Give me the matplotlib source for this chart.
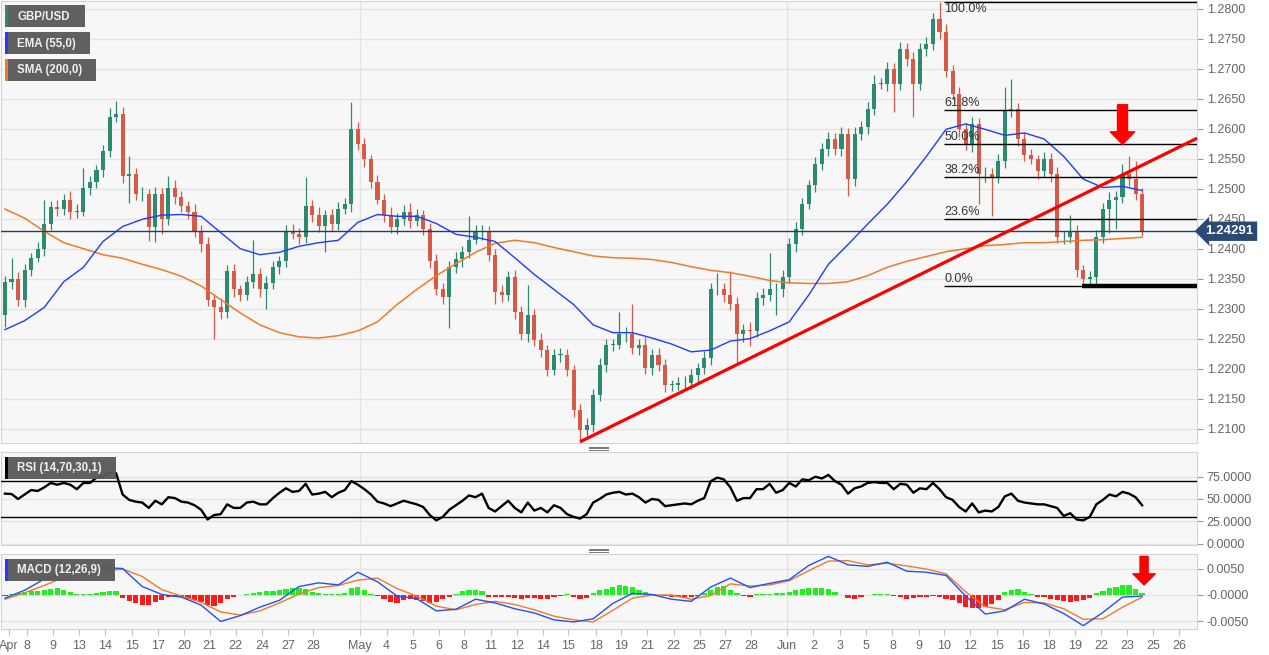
import matplotlib
matplotlib.use('Agg')
import matplotlib.pyplot as plt
from matplotlib.patches import Rectangle
from matplotlib.lines import Line2D
import numpy as np

plt.rcParams['font.family'] = ['Liberation Sans', 'DejaVu Sans']

# ---------------- data (GBP/USD, 8h bars) ----------------
first_open = 1.2290
close = [1.2345, 1.2349, 1.2315, 1.2365, 1.2385, 1.2399, 1.2441, 1.2469, 1.2466, 1.2482,
         1.2462, 1.2462, 1.2502, 1.2512, 1.2532, 1.2563, 1.2619, 1.2624, 1.2521, 1.2524,
         1.2491, 1.2491, 1.2436, 1.2491, 1.2449, 1.2502, 1.2486, 1.2471, 1.2462, 1.2429,
         1.2407, 1.2315, 1.2302, 1.2295, 1.2362, 1.2332, 1.2323, 1.2345, 1.2357, 1.2332,
         1.2343, 1.2369, 1.2379, 1.2429, 1.2424, 1.2420, 1.2471, 1.2457, 1.2437, 1.2457,
         1.2441, 1.2466, 1.2474, 1.2599, 1.2574, 1.2549, 1.2511, 1.2482, 1.2457, 1.2436,
         1.2449, 1.2461, 1.2446, 1.2457, 1.2432, 1.2379, 1.2332, 1.2320, 1.2369, 1.2382,
         1.2394, 1.2415, 1.2427, 1.2429, 1.2390, 1.2327, 1.2323, 1.2352, 1.2295, 1.2257,
         1.2290, 1.2248, 1.2231, 1.2198, 1.2223, 1.2223, 1.2198, 1.2131, 1.2098, 1.2106,
         1.2156, 1.2206, 1.2240, 1.2240, 1.2257, 1.2257, 1.2235, 1.2240, 1.2201, 1.2223,
         1.2206, 1.2173, 1.2173, 1.2176, 1.2176, 1.2190, 1.2201, 1.2218, 1.2332, 1.2332,
         1.2323, 1.2307, 1.2257, 1.2265, 1.2262, 1.2318, 1.2323, 1.2332, 1.2332, 1.2352,
         1.2407, 1.2432, 1.2474, 1.2507, 1.2541, 1.2566, 1.2583, 1.2566, 1.2591, 1.2516,
         1.2591, 1.2603, 1.2633, 1.2675, 1.2675, 1.2700, 1.2675, 1.2733, 1.2716, 1.2675,
         1.2733, 1.2741, 1.2783, 1.2762, 1.2696, 1.2658, 1.2599, 1.2574, 1.2608, 1.2524,
         1.2524, 1.2519, 1.2546, 1.2629, 1.2633, 1.2583, 1.2557, 1.2549, 1.2529, 1.2549,
         1.2524, 1.2419, 1.2419, 1.2429, 1.2365, 1.2349, 1.2352, 1.2419, 1.2466, 1.2482,
         1.2486, 1.2524, 1.2516, 1.2491, 1.24291]

# wick lengths in pips above / below the body
up = [10, 35, 12, 10, 8, 12, 40, 10, 12, 10,
      15, 12, 33, 10, 8, 10, 15, 22, 12, 30,
      10, 12, 8, 12, 10, 20, 12, 10, 8, 12,
      10, 12, 10, 15, 10, 12, 8, 10, 58, 10,
      12, 10, 8, 10, 12, 10, 48, 10, 12, 8,
      10, 12, 10, 45, 12, 10, 8, 12, 10, 12,
      10, 12, 15, 10, 8, 10, 12, 10, 10, 12,
      10, 40, 12, 10, 8, 10, 12, 10, 12, 10,
      50, 10, 12, 8, 10, 12, 10, 8, 10, 12,
      10, 12, 10, 10, 38, 12, 50, 10, 12, 10,
      12, 10, 8, 10, 12, 10, 8, 12, 10, 28,
      10, 40, 12, 10, 12, 10, 12, 60, 10, 12,
      10, 12, 10, 8, 12, 10, 12, 10, 12, 10,
      12, 10, 12, 15, 10, 12, 10, 12, 10, 12,
      10, 12, 10, 29, 12, 10, 12, 10, 12, 10,
      12, 10, 12, 40, 50, 10, 12, 10, 8, 12,
      10, 12, 10, 28, 10, 8, 10, 12, 10, 12,
      10, 17, 30, 30, 10]
dn = [20, 12, 10, 12, 10, 8, 12, 10, 12, 10,
      12, 10, 8, 12, 10, 12, 10, 8, 12, 45,
      10, 12, 23, 25, 25, 10, 12, 10, 12, 10,
      12, 10, 53, 12, 10, 12, 10, 8, 10, 12,
      33, 10, 12, 10, 8, 12, 10, 12, 10, 43,
      12, 10, 8, 12, 10, 12, 10, 8, 12, 10,
      12, 10, 12, 8, 10, 12, 10, 12, 52, 10,
      12, 10, 8, 12, 10, 20, 12, 10, 12, 10,
      12, 10, 12, 10, 8, 12, 10, 12, 20, 10,
      12, 10, 12, 10, 8, 12, 10, 12, 10, 12,
      10, 12, 10, 8, 12, 10, 12, 10, 12, 10,
      12, 10, 47, 12, 25, 10, 12, 10, 42, 12,
      10, 12, 10, 8, 12, 10, 12, 10, 12, 28,
      12, 10, 12, 10, 8, 12, 47, 10, 12, 55,
      10, 12, 10, 12, 10, 8, 12, 10, 12, 50,
      12, 65, 10, 12, 10, 12, 10, 8, 12, 10,
      12, 10, 12, 10, 12, 11, 10, 12, 10, 40,
      50, 10, 12, 10, 8]

# moving averages, every 3rd bar
ema55 = [1.2265, 1.2280, 1.2302, 1.2345, 1.2369, 1.2412, 1.2437, 1.2449, 1.2456, 1.2457,
         1.2454, 1.2427, 1.2400, 1.2390, 1.2394, 1.2404, 1.2410, 1.2414, 1.2444, 1.2457,
         1.2454, 1.2454, 1.2442, 1.2424, 1.2419, 1.2412, 1.2385, 1.2357, 1.2332, 1.2307,
         1.2273, 1.2260, 1.2260, 1.2251, 1.2241, 1.2228, 1.2231, 1.2246, 1.2250, 1.2263,
         1.2278, 1.2323, 1.2374, 1.2407, 1.2441, 1.2474, 1.2512, 1.2554, 1.2599, 1.2608,
         1.2599, 1.2589, 1.2593, 1.2583, 1.2554, 1.2516, 1.2502, 1.2504, 1.2497]
sma200 = [1.2466, 1.2451, 1.2429, 1.2410, 1.2400, 1.2390, 1.2384, 1.2374, 1.2365, 1.2354,
          1.2338, 1.2315, 1.2293, 1.2273, 1.2260, 1.2253, 1.2251, 1.2255, 1.2263, 1.2278,
          1.2307, 1.2332, 1.2355, 1.2375, 1.2394, 1.2409, 1.2414, 1.2410, 1.2402, 1.2395,
          1.2388, 1.2385, 1.2384, 1.2382, 1.2377, 1.2370, 1.2364, 1.2360, 1.2354, 1.2347,
          1.2343, 1.2342, 1.2342, 1.2345, 1.2355, 1.2369, 1.2379, 1.2387, 1.2395, 1.2400,
          1.2405, 1.2407, 1.2410, 1.2410, 1.2412, 1.2414, 1.2415, 1.2417, 1.2419]

rsi = [56, 55.6, 50, 55, 60, 59, 63, 68, 66, 68,
       66, 61, 68, 68, 74, 75, 80, 79, 55, 49,
       47, 46, 40, 48, 44, 52, 51, 47, 46, 43,
       38, 27, 32, 33, 44, 40, 40, 46, 47, 44,
       44, 51, 57, 62, 58, 59, 67, 55, 56, 58,
       52, 57, 60, 70, 66, 61, 55, 47, 45, 42,
       45, 48, 46, 44, 41, 32, 26, 30, 38, 43,
       48, 54, 52, 56, 40, 36, 42, 48, 40, 35,
       46, 37, 40, 35, 43, 40, 33, 30, 28, 33,
       46, 50, 55, 57, 58, 55, 56, 52, 46, 50,
       49, 42, 43, 44, 45, 44, 48, 51, 70, 74,
       72, 63, 48, 51, 51, 61, 61, 67, 57, 60,
       68, 64, 72, 71, 75, 73, 77, 70, 66, 56,
       62, 64, 68, 69, 68, 68, 61, 67, 66, 57,
       62, 61, 68, 61, 52, 49, 41, 36, 45, 35,
       37, 36, 41, 53, 56, 48, 46, 45, 44, 44,
       42, 40, 31, 34, 27, 26, 30, 44, 49, 55,
       53, 58, 56, 52, 43]

macd = [-0.0006, 0.0009, 0.0030, 0.0041, 0.0044, 0.0052, 0.0050, 0.0016, 0.0001, -0.0004,
        -0.0019, -0.0050, -0.0039, -0.0023, -0.0010, 0.0016, 0.0023, 0.0019, 0.0043, 0.0025,
        -0.0002, -0.0007, -0.0030, -0.0027, -0.0008, -0.0015, -0.0026, -0.0034, -0.0047, -0.0051,
        -0.0045, -0.0016, 0.0003, 0.0001, -0.0008, -0.0012, 0.0015, 0.0032, 0.0014, 0.0022,
        0.0029, 0.0056, 0.0073, 0.0057, 0.0054, 0.0062, 0.0045, 0.0043, 0.0037, -0.0002,
        -0.0036, -0.0030, -0.0008, -0.0017, -0.0035, -0.0058, -0.0033, -0.0004, -0.0002]
signal = [-0.0008, 0.0004, 0.0018, 0.0033, 0.0040, 0.0045, 0.0049, 0.0035, 0.0010, -0.0002,
          -0.0014, -0.0032, -0.0038, -0.0030, -0.0015, 0.0002, 0.0014, 0.0018, 0.0028, 0.0032,
          0.0012, -0.0002, -0.0021, -0.0028, -0.0018, -0.0012, -0.0018, -0.0028, -0.0040, -0.0047,
          -0.0051, -0.0029, -0.0006, 0.0000, 0.0000, -0.0008, -0.0001, 0.0021, 0.0017, 0.0019,
          0.0027, 0.0046, 0.0064, 0.0065, 0.0057, 0.0060, 0.0055, 0.0049, 0.0040, 0.0006,
          -0.0022, -0.0028, -0.0014, -0.0015, -0.0026, -0.0046, -0.0045, -0.0023, -0.0004]
hist = [-0.0002, 0.0002, 0.0003, 0.0005, 0.0007, 0.0008, 0.0010, 0.0012, 0.0013, 0.0009,
        0.0005, 0.0002, 0.0001, 0.0001, 0.0003, 0.0005, 0.0008, 0.0007, -0.0005, -0.0011,
        -0.0015, -0.0019, -0.0018, -0.0014, -0.0009, -0.0004, -0.0003, -0.0004, -0.0007, -0.0009,
        -0.0013, -0.0019, -0.0021, -0.0015, -0.0008, -0.0003, 0.0000, 0.0002, 0.0004, 0.0006,
        0.0007, 0.0008, 0.0010, 0.0012, 0.0013, 0.0013, 0.0011, 0.0006, 0.0003, 0.0002,
        0.0001, 0.0001, 0.0004, 0.0013, 0.0015, 0.0009, 0.0002, -0.0002, -0.0008, -0.0013,
        -0.0016, -0.0009, -0.0008, -0.0010, -0.0012, -0.0015, -0.0014, -0.0008, -0.0004, 0.0002,
        0.0008, 0.0009, 0.0009, 0.0007, -0.0003, -0.0004, -0.0004, -0.0003, -0.0005, -0.0007,
        -0.0006, -0.0006, -0.0008, -0.0007, -0.0004, -0.0001, 0.0001, -0.0004, -0.0008, -0.0006,
        0.0004, 0.0009, 0.0012, 0.0016, 0.0018, 0.0017, 0.0015, 0.0010, 0.0005, 0.0002,
        0.0000, -0.0002, -0.0004, -0.0004, -0.0004, -0.0003, -0.0001, 0.0003, 0.0009, 0.0015,
        0.0017, 0.0010, 0.0004, -0.0002, -0.0004, 0.0001, 0.0002, 0.0002, 0.0003, 0.0004,
        0.0006, 0.0009, 0.0012, 0.0013, 0.0014, 0.0013, 0.0011, 0.0006, 0.0000, -0.0006,
        -0.0008, -0.0004, 0.0000, 0.0002, 0.0002, 0.0001, -0.0002, -0.0004, -0.0007, -0.0006,
        -0.0004, -0.0004, -0.0002, -0.0003, -0.0007, -0.0009, -0.0016, -0.0022, -0.0024, -0.0025,
        -0.0022, -0.0017, -0.0010, 0.0006, 0.0010, 0.0011, 0.0005, 0.0002, -0.0003, -0.0004,
        -0.0007, -0.0010, -0.0012, -0.0013, -0.0012, -0.0010, -0.0006, 0.0004, 0.0008, 0.0013,
        0.0016, 0.0019, 0.0018, 0.0012, 0.0003]

tick_pos = [0.6, 3.4, 7.3, 11.3, 15.3, 19.4, 23.4, 27.4, 31.3, 35.3, 39.4, 43.3, 47.2,
            54.3, 58.4, 62.4, 66.4, 70.2, 74.3, 78.3, 82.3, 86.2, 90.4, 94.3, 98.3, 102.3,
            106.3, 110.2, 114.2, 119.7, 123.7, 127.7, 131.8, 135.8, 139.8, 143.7, 147.7,
            151.8, 155.8, 159.8, 163.8, 167.7, 171.7, 175.7, 179.7]
tick_lab = ['Apr', '8', '9', '13', '14', '15', '17', '20', '21', '22', '24', '27', '28',
            'May', '4', '5', '6', '8', '11', '12', '14', '15', '18', '19', '21', '22', '25',
            '27', '28', 'Jun', '2', '3', '5', '8', '9', '10', '12', '15', '16', '18', '19',
            '22', '23', '25', '26']
month_pos = [54.3, 119.7]

fib_ratio = [0.0, 0.236, 0.382, 0.5, 0.618, 1.0]
trend_bar = [88, 171]
trend_px = [1.2078, 1.2523]

# ---------------- derived ----------------
c = np.array(close)
n = len(c)
idx = np.arange(n)
o = np.r_[first_open, c[:-1]]
hi = np.maximum(o, c) + np.array(up) / 1e4
lo = np.minimum(o, c) - np.array(dn) / 1e4
lidx = np.arange(0, n, 3)

W, H = 1269, 655
XMIN, XMAX = -0.61, 182.4
BG = '#f7f7f7'
SPINE = '#cdd3e2'
GRID = '#e4e4e4'
TXT = '#666666'


def fx(px):
    return px / W


def fy(py):
    return 1 - py / H


fig = plt.figure(figsize=(12.69, 6.55), dpi=100)
fig.patch.set_facecolor('white')
ax = fig.add_axes([fx(1), fy(443), fx(1196), (443 - 1) / H])
ax_r = fig.add_axes([fx(1), fy(545), fx(1196), (545 - 452) / H], sharex=ax)
ax_m = fig.add_axes([fx(1), fy(629), fx(1196), (629 - 554) / H], sharex=ax)

for a in (ax, ax_r, ax_m):
    a.set_facecolor(BG)
    for s in a.spines.values():
        s.set_color(SPINE)
    a.yaxis.tick_right()
    a.tick_params(axis='y', right=True, left=False, length=4, color='#9a9a9a',
                  labelcolor=TXT, labelsize=9, pad=3)
    a.tick_params(axis='x', bottom=False, labelbottom=False)
    a.grid(axis='y', color=GRID, lw=1)
    a.set_axisbelow(True)
    for m in month_pos:
        a.axvline(m, color=GRID, lw=1, zorder=0)

ax.set_xlim(XMIN, XMAX)

# ---------------- main price panel ----------------
col = np.where(c >= o, '#2e8a6e', '#d65a48')
ax.vlines(idx, lo, hi, colors=col, lw=0.9, zorder=3)
body = np.maximum(np.abs(c - o), 0.00008)
ax.bar(idx, body, bottom=np.minimum(o, c), width=0.62, color=col, lw=0, zorder=4)

ax.plot(lidx, sma200, color='#f07a2a', lw=1.1, zorder=5)
ax.plot(lidx, ema55, color='#1f3cff', lw=1.0, zorder=5)

ax.set_ylim(1.2076, 1.2813)
yt = np.arange(1.21, 1.28001, 0.005)
ax.set_yticks(yt)
ax.set_yticklabels(['%.4f' % v for v in yt])

# fibonacci retracement from the June high to the June low
i_top = int(np.argmax(hi))
i_bot = i_top + int(np.argmin(lo[i_top:]))
f_top, f_bot = hi[i_top], lo[i_bot]
for r in fib_ratio:
    lvl = f_bot + r * (f_top - f_bot)
    ax.hlines(lvl, i_top + 0.7, XMAX, color='black', lw=1, zorder=6)
    if r < 1:
        ax.text(i_top + 0.7, lvl + 0.0002, '%.1f%%' % (r * 100), fontsize=9, color='#333333',
                ha='left', va='bottom', zorder=6)
    else:
        # no room above the top line, so this one sits just under it
        ax.text(i_top + 0.7, lvl - 0.0002, '%.1f%%' % (r * 100), fontsize=9, color='#333333',
                ha='left', va='top', zorder=6)
ax.hlines(f_bot, i_bot - 0.2, XMAX, color='black', lw=3.2, zorder=6)

# rising trend line
slope = (trend_px[1] - trend_px[0]) / (trend_bar[1] - trend_bar[0])
ax.plot([trend_bar[0], XMAX], [trend_px[0], trend_px[0] + slope * (XMAX - trend_bar[0])],
        color='#ff0000', lw=2.3, zorder=7, solid_capstyle='butt', clip_on=False)

# last price
last = c[-1]
ax.axhline(last, color='#223f6b', lw=1, zorder=5)
ax.text(1.007, last, '%.5f' % last, transform=ax.get_yaxis_transform(), ha='left',
        va='center', color='white', fontsize=9.5, fontweight='bold', zorder=10,
        bbox=dict(boxstyle='larrow,pad=0.28', fc='#2b4a73', ec='none'))

ax.annotate('', xy=(171, 1.2574), xytext=(171, 1.2640),
            arrowprops=dict(arrowstyle='simple,head_length=0.9,head_width=1.75,tail_width=0.72',
                            color='#ff0000', shrinkA=0, shrinkB=0, mutation_scale=10), zorder=9)

# ---------------- RSI panel ----------------
ax_r.plot(idx, rsi, color='black', lw=1.7, zorder=4)
ax_r.axhline(70, color='black', lw=1, zorder=3)
ax_r.axhline(30, color='black', lw=1, zorder=3)
ax_r.set_ylim(-1.6, 102.7)
ax_r.set_yticks([0, 25, 50, 75])
ax_r.set_yticklabels(['%.4f' % v for v in [0, 25, 50, 75]])

# ---------------- MACD panel ----------------
hcol = np.where(np.array(hist) >= 0, '#22ee22', '#ff1a1a')
ax_m.bar(idx, hist, width=0.8, color=hcol, lw=0, zorder=3)
ax_m.plot(lidx, signal, color='#f07a2a', lw=1.0, zorder=4)
ax_m.plot(lidx, macd, color='#2050ff', lw=1.0, zorder=5)
ax_m.set_ylim(-0.00643, 0.00775)
ax_m.set_yticks([-0.005, 0, 0.005])
ax_m.set_yticklabels(['-0.0050', '-0.0000', '0.0050'])
ax_m.annotate('', xy=(174.3, 0.0019), xytext=(174.3, 0.0073),
              arrowprops=dict(arrowstyle='simple,head_length=0.8,head_width=1.6,tail_width=0.58',
                              color='#ff0000', shrinkA=0, shrinkB=0, mutation_scale=10), zorder=9)

ax_m.set_xticks(tick_pos)
ax_m.set_xticklabels(tick_lab)
ax_m.tick_params(axis='x', bottom=True, labelbottom=True, length=4, color='#bfbfbf',
                 labelcolor=TXT, labelsize=9, pad=4)

# ---------------- labels on the panels ----------------
def label_box(x0, y0, x1, y1, stripe, text):
    fig.patches.append(Rectangle((fx(x0), fy(y1)), fx(x1 - x0), (y1 - y0) / H,
                                 transform=fig.transFigure, fc='#5a5a5a', ec='none',
                                 alpha=0.96, zorder=20))
    fig.patches.append(Rectangle((fx(x0), fy(y1)), fx(3), (y1 - y0) / H,
                                 transform=fig.transFigure, fc=stripe, ec='none', zorder=21))
    fig.text(fx(x0 + 12), fy((y0 + y1) / 2 + 0.5), text, color='#f0f0f0', fontsize=8.3,
             fontweight='bold', ha='left', va='center', zorder=22)


label_box(5, 5, 85, 27, '#2e8a6e', 'GBP/USD')
label_box(5, 32, 90, 54, '#1f3cff', 'EMA (55,0)')
label_box(5, 59, 96, 81, '#f07a2a', 'SMA (200,0)')
label_box(5, 457, 116, 479, '#000000', 'RSI (14,70,30,1)')
label_box(5, 559, 115, 581, '#1f3cff', 'MACD (12,26,9)')

# drag handles between panels
for yy in (446.5, 548.5):
    for k in range(3):
        fig.add_artist(Line2D([fx(589), fx(608)], [fy(yy + 1.6 * k)] * 2, color='#777777',
                              lw=0.7, transform=fig.transFigure))

fig.savefig('out.png', dpi=100, facecolor='white')
